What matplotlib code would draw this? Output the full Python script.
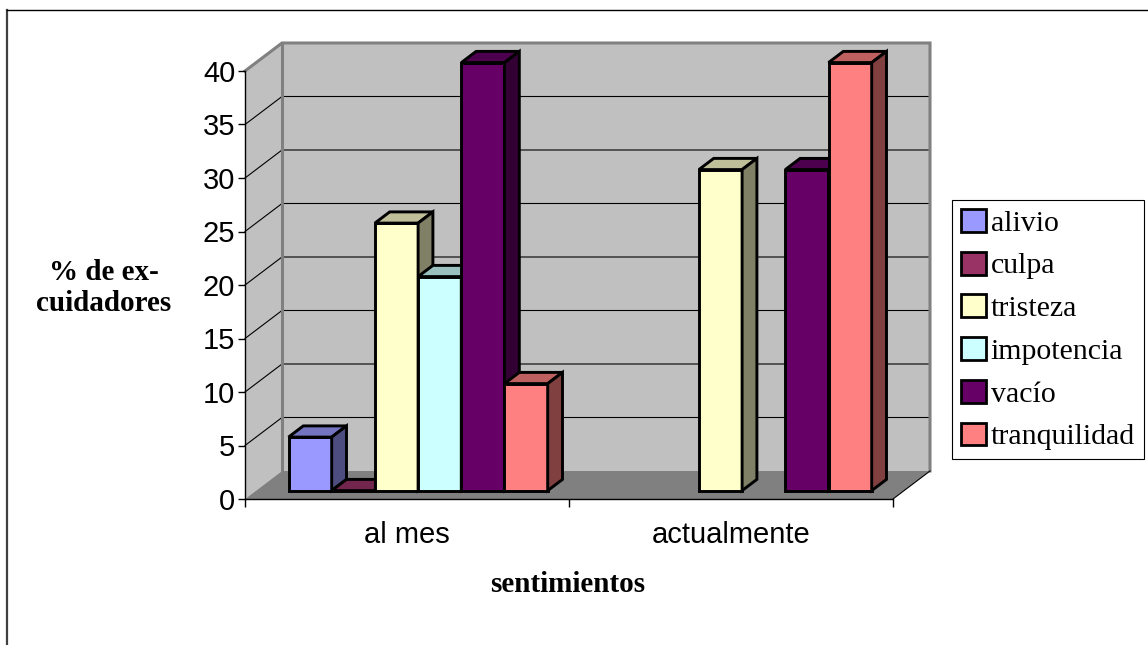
import numpy as np
import matplotlib
matplotlib.use("Agg")
import matplotlib.pyplot as plt
from matplotlib.patches import Polygon, Patch
from matplotlib.lines import Line2D
from matplotlib.colors import to_rgb

# ---- data ----
periods = ["al mes", "actualmente"]
feelings = ["alivio", "culpa", "tristeza", "impotencia", "vacío", "tranquilidad"]
al_mes = [5, 0, 25, 20, 40, 10]
actualmente = [np.nan, np.nan, 30, np.nan, 30, 40]
colors = ["#9999FF", "#993366", "#FFFFCC", "#CCFFFF", "#660066", "#FF8080"]
y_ticks = [0, 5, 10, 15, 20, 25, 30, 35, 40]

plt.rcParams["font.family"] = ["Liberation Sans", "DejaVu Sans"]
SERIF = ["Liberation Serif", "DejaVu Serif"]

W, H = 1148, 645
fig = plt.figure(figsize=(W / 100, H / 100), dpi=100)
ax = fig.add_axes([245 / W, 1 - 499 / H, 648 / W, 428 / H])
ax.set_xlim(0, 2)
ax.set_ylim(0, 40)

# depth of the 3-D box, in data units
DX = 37 / 324
DY = 28 / 10.7
YMAX = y_ticks[-1]
NCAT = len(periods)

wall = "#C0C0C0"
edge_grey = "#808080"

# side wall, back wall and floor
ax.add_patch(Polygon([(0, 0), (DX, DY), (DX, YMAX + DY), (0, YMAX)],
                     closed=True, fc=wall, ec="none", zorder=0, clip_on=False))
ax.add_patch(Polygon([(DX, DY), (NCAT + DX, DY), (NCAT + DX, YMAX + DY), (DX, YMAX + DY)],
                     closed=True, fc=wall, ec="none", zorder=0, clip_on=False))
ax.add_patch(Polygon([(0, 0), (NCAT, 0), (NCAT + DX, DY), (DX, DY)],
                     closed=True, fc=edge_grey, ec="none", zorder=1, clip_on=False))

# gridlines across the side and back walls
for t in y_ticks[1:-1]:
    ax.plot([0, DX, NCAT + DX], [t, t + DY, t + DY], color="black", lw=0.8,
            zorder=0.5, clip_on=False)

# wall edges
ax.plot([0, DX, NCAT + DX, NCAT + DX], [YMAX, YMAX + DY, YMAX + DY, DY],
        color=edge_grey, lw=2.2, zorder=0.6, clip_on=False, solid_joinstyle="miter")
ax.plot([DX, DX], [DY, YMAX + DY], color=edge_grey, lw=2.2, zorder=0.6, clip_on=False)
ax.plot([NCAT, NCAT + DX], [0, DY], color="black", lw=0.8, zorder=1.2, clip_on=False)

# 3-D bars
bar_w = 0.8 / len(feelings)
gap = 0.1
z0, z1 = 0.3, 0.7
dz = z1 - z0
lw = 2.1
z = 3
for g, vals in enumerate([al_mes, actualmente]):
    for i, v in enumerate(vals):
        if np.isnan(v):
            continue
        base = np.array(to_rgb(colors[i]))
        top_c = base * 0.75
        side_c = base * 0.5
        x0 = g + gap + i * bar_w + z0 * DX
        y0 = z0 * DY
        ax.bar(x0, v, width=bar_w, bottom=y0, align="edge", color=colors[i],
               edgecolor="black", linewidth=lw, zorder=z, clip_on=False)
        ax.add_patch(Polygon([(x0, y0 + v), (x0 + bar_w, y0 + v),
                              (x0 + bar_w + dz * DX, y0 + v + dz * DY),
                              (x0 + dz * DX, y0 + v + dz * DY)],
                             closed=True, fc=top_c, ec="black", lw=lw,
                             zorder=z, clip_on=False, joinstyle="miter"))
        ax.add_patch(Polygon([(x0 + bar_w, y0), (x0 + bar_w + dz * DX, y0 + dz * DY),
                              (x0 + bar_w + dz * DX, y0 + v + dz * DY),
                              (x0 + bar_w, y0 + v)],
                             closed=True, fc=side_c, ec="black", lw=lw,
                             zorder=z, clip_on=False, joinstyle="miter"))
        z += 1

# axes, ticks and labels
for s in ("top", "right"):
    ax.spines[s].set_visible(False)
ax.spines["left"].set_linewidth(1.0)
ax.spines["bottom"].set_linewidth(1.0)
ax.spines["left"].set_zorder(2)
ax.spines["bottom"].set_zorder(2)
ax.set_facecolor("none")

ax.set_yticks(y_ticks)
ax.set_yticklabels([str(t) for t in y_ticks])
ax.tick_params(axis="y", direction="out", length=5, width=1, labelsize=21, pad=2)

ax.set_xticks(np.arange(NCAT + 1))
ax.set_xticklabels([])
ax.set_xticks(np.arange(NCAT) + 0.5, minor=True)
ax.set_xticklabels(periods, minor=True)
ax.tick_params(axis="x", which="major", direction="out", length=6, width=1)
ax.tick_params(axis="x", which="minor", length=0, labelsize=21, pad=16)

fig.text(104 / W, 1 - 288 / H, "% de ex-\ncuidadores", ha="center", va="center",
         family=SERIF, weight="bold", fontsize=21, linespacing=1.15)
fig.text(568 / W, 1 - 585 / H, "sentimientos", ha="center", va="center",
         family=SERIF, weight="bold", fontsize=21)

handles = [Patch(facecolor=c, edgecolor="black", linewidth=2.0) for c in colors]
leg = fig.legend(handles, feelings, loc="upper left",
                 bbox_to_anchor=(952 / W, 1 - 200 / H),
                 frameon=True, fancybox=False, framealpha=1, edgecolor="black",
                 prop={"family": SERIF, "size": 21.5},
                 handlelength=0.85, handleheight=0.8, handletextpad=0.15,
                 labelspacing=0.5, borderpad=0.3, borderaxespad=0)
leg.get_frame().set_linewidth(0.8)

# chart-area frame (top and left edges)
fig.add_artist(Line2D([7 / W, 7 / W], [0, 1 - 10 / H], color="#404040", lw=1.6,
                      transform=fig.transFigure))
fig.add_artist(Line2D([7 / W, 1], [1 - 10 / H, 1 - 10 / H], color="black", lw=1.0,
                      transform=fig.transFigure))

fig.savefig("out.png", dpi=100)
